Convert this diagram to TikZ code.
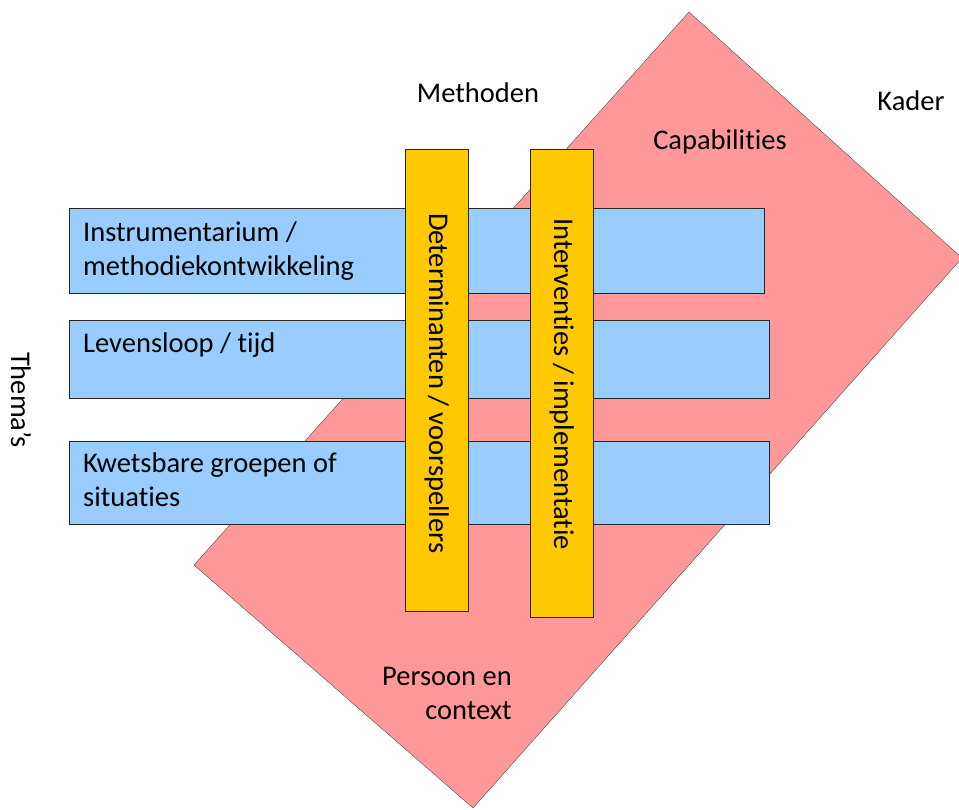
\documentclass[tikz,border=0pt]{standalone}
\usepackage{fontspec}
\setmainfont{Carlito}[Ligatures=NoCommon]
\usepackage{xcolor}
\definecolor{kaderrood}{RGB}{255,153,153}
\definecolor{themablauw}{RGB}{153,204,255}
\definecolor{methodegeel}{RGB}{255,201,0}
\tikzset{
    KA/.style ={draw=black!70, fill=kaderrood},
    TH/.style ={rectangle, anchor=north west, inner sep=0pt, draw=black!85, fill=themablauw},
    ME/.style ={rectangle, anchor=north west, inner sep=0pt, draw=black!85, fill=methodegeel},
    TX/.style ={inner sep=0pt, font=\fontsize{28.5}{34}\selectfont}
}

\begin{document}
\begin{tikzpicture}[x=1pt,y=-1pt]
        \useasboundingbox (0,0) rectangle (959,810);
        % kader
        \coordinate (top) at (689,12);
        \coordinate (rechts) at (962,258);
        \coordinate (onder) at (473,808);
        \coordinate (links) at (194,565);
        \draw[KA] (top) -- (rechts) -- (onder) -- (links) -- cycle;
        % thema's
        \node[TH, minimum width=695pt, minimum height=85pt] (instr) at (69,208) {};
        \node[TH, minimum width=700pt, minimum height=78pt] (leven) at (69,320) {};
        \node[TH, minimum width=700pt, minimum height=83pt] (kwets) at (69,441) {};
        \node[TX, anchor=base west, align=left] (instrtxt) at (83,276)
            {Instrumentarium /\\methodiekontwikkeling};
        \node[TX, anchor=base west, align=left] (leventxt) at (83,353)
            {Levensloop / tijd};
        \node[TX, anchor=base west, align=left] (kwetstxt) at (83,506)
            {Kwetsbare groepen of\\situaties};
        % methoden
        \node[ME, minimum width=63pt, minimum height=462pt] (determ) at (405,149) {};
        \node[ME, minimum width=63pt, minimum height=468pt] (interv) at (530,149) {};
        \node[TX, rotate=-90] (determtxt) at ([yshift=-3pt]determ.center) {Determinanten / voorspellers};
        \node[TX, rotate=-90] (intervtxt) at ([yshift=-1pt]interv.center) {Interventies / implementatie};
        % losse labels
        \node[TX, anchor=base] (methoden) at (478,103) {Methoden};
        \node[TX, anchor=base] (kader) at (911,111) {Kader};
        \node[TX, anchor=base] (capab) at (720,150) {Capabilities};
        \node[TX, rotate=-90] (themas) at (21,400) {Thema’s};
        \node[TX, anchor=base east, align=right] (persoon) at (512,719) {Persoon en\\context};
\end{tikzpicture}
\end{document}
